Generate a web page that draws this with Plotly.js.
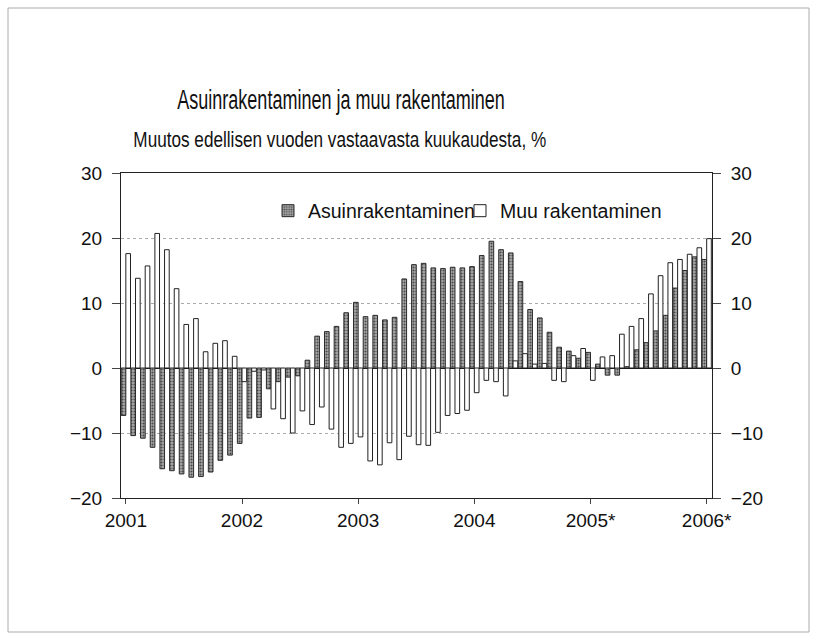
<!DOCTYPE html>
<html>
<head>
<meta charset="utf-8">
<script src="https://cdn.plot.ly/plotly-3.0.1.min.js"></script>
<style>html,body{margin:0;padding:0;background:#fff;}#chart{width:817px;height:638px;}</style>
</head>
<body>
<div id="chart"></div>
<script>
// Months Jan 2001 ... Jan 2006 (index 0..60)
const monthIndex = Array.from({length: 61}, (_, i) => i);
const tickPositions = [0, 12, 24, 36, 48, 60];
const tickLabels = ["2001", "2002", "2003", "2004", "2005*", "2006*"];

const asuinrakentaminen = [
  -7.3, -10.4, -10.8, -12.2, -15.5, -15.8, -16.3, -16.8, -16.7, -16.0, -14.2, -13.4,
  -11.6, -7.7, -7.6, -3.2, -2.1, -1.4, -1.2, 1.2, 4.9, 5.6, 6.4, 8.5,
  10.1, 7.9, 8.1, 7.4, 7.8, 13.7, 15.9, 16.1, 15.4, 15.3, 15.5, 15.4,
  15.6, 17.3, 19.5, 18.2, 17.7, 13.3, 9.0, 7.7, 5.5, 3.2, 2.6, 1.5,
  2.4, 0.6, -1.1, -1.1, 0.2, 2.8, 3.9, 5.7, 8.1, 12.3, 15.0, 17.1,
  16.7
];
const muuRakentaminen = [
  17.6, 13.8, 15.7, 20.7, 18.2, 12.2, 6.7, 7.6, 2.5, 3.8, 4.2, 1.8,
  -2.1, -0.5, -0.3, -6.3, -7.8, -10.0, -6.6, -8.7, -6.0, -9.4, -12.2, -11.6,
  -10.6, -14.3, -14.9, -11.5, -14.1, -10.5, -11.8, -11.9, -9.9, -7.3, -7.0, -6.5,
  -3.8, -1.9, -2.1, -4.3, 1.1, 2.2, 0.6, 0.7, -1.9, -2.1, 1.9, 3.0,
  -1.9, 1.7, 1.9, 5.2, 6.4, 7.6, 11.4, 14.2, 16.2, 16.7, 17.5, 18.5,
  19.9
];
const seriesNames = ["Asuinrakentaminen", "Muu rakentaminen"];
const titleText = "Asuinrakentaminen ja muu rakentaminen";
const subtitleText = "Muutos edellisen vuoden vastaavasta kuukaudesta, %";

const FONT = "'Liberation Sans', Arial, sans-serif";

const traces = [
  {
    type: "bar", name: seriesNames[0], x: monthIndex, y: asuinrakentaminen,
    legend: "legend",
    marker: {
      color: "#8e8e8e",
      line: {color: "#2a2a2a", width: 1},
      pattern: {shape: ".", fgcolor: "#4a4a4a", bgcolor: "#a8a8a8", size: 3, solidity: 0.4}
    }
  },
  {
    type: "bar", name: seriesNames[1], x: monthIndex, y: muuRakentaminen,
    legend: "legend2",
    marker: {color: "#ffffff", line: {color: "#222", width: 1}}
  },
  {
    type: "scatter", x: [0], y: [0], yaxis: "y2", mode: "markers",
    marker: {opacity: 0}, showlegend: false, hoverinfo: "skip"
  }
];

const legendCommon = {
  orientation: "h", xanchor: "left",
  y: (498 - 211) / 325, yanchor: "middle",
  bgcolor: "rgba(0,0,0,0)",
  font: {family: FONT, size: 19.5, color: "#111"},
  itemwidth: 30
};

const layout = {
  width: 817, height: 638,
  margin: {l: 121, r: 105, t: 173, b: 140},
  paper_bgcolor: "#fff", plot_bgcolor: "#fff",
  font: {family: FONT, color: "#111", size: 19},
  showlegend: true,
  barmode: "group", bargap: 0.04, bargroupgap: 0,
  title: {
    text: titleText,
    font: {family: FONT, size: 27, color: "#111"},
    xref: "container", x: 341 / 817, xanchor: "center",
    yref: "container", y: 1 - 100 / 638, yanchor: "middle"
  },
  annotations: [{
    text: subtitleText, showarrow: false,
    xref: "paper", yref: "paper",
    x: (340 - 121) / 591, y: (498 - 139) / 325,
    xanchor: "center", yanchor: "middle",
    font: {family: FONT, size: 22, color: "#111"}
  }],
  legend: Object.assign({}, legendCommon, {x: (268 - 121) / 591}),
  legend2: Object.assign({}, legendCommon, {x: (460 - 121) / 591}),
  xaxis: {
    range: [-0.5, 60.55],
    tickmode: "array", tickvals: tickPositions, ticktext: tickLabels,
    ticks: "outside", ticklen: 5, tickcolor: "#444",
    showline: true, linecolor: "#222", linewidth: 1, mirror: true,
    showgrid: false, zeroline: false,
    tickfont: {family: FONT, size: 19, color: "#111"}
  },
  yaxis: {
    range: [-20, 30], dtick: 10, tick0: 0,
    ticks: "outside", ticklen: 8, tickcolor: "#444", ticklabelstandoff: 6,
    showline: true, linecolor: "#222", linewidth: 1, mirror: true,
    showgrid: true, gridcolor: "#aaa", griddash: "dot", gridwidth: 1,
    zeroline: true, zerolinecolor: "#111", zerolinewidth: 1,
    tickfont: {family: FONT, size: 19, color: "#111"}
  },
  yaxis2: {
    range: [-20, 30], dtick: 10, tick0: 0,
    overlaying: "y", side: "right",
    ticks: "outside", ticklen: 8, tickcolor: "#444", ticklabelstandoff: 6,
    showline: true, linecolor: "#222", linewidth: 1,
    showgrid: false, zeroline: false,
    tickfont: {family: FONT, size: 19, color: "#111"}
  },
  shapes: [{
    type: "rect", xref: "paper", yref: "paper",
    x0: (8 - 121) / 591, x1: (809 - 121) / 591,
    y0: (498 - 632) / 325, y1: (498 - 8) / 325,
    line: {color: "#aaa", width: 1}, fillcolor: "rgba(0,0,0,0)", layer: "below"
  }]
};

// Narrow-font look for the titles: squeeze horizontally about each text's anchor point
function squeeze(el, s) {
  const x = parseFloat(el.getAttribute("x")) || 0;
  const t = el.getAttribute("transform") || "";
  el.setAttribute("transform", t + " translate(" + x + ",0) scale(" + s + ",1) translate(" + (-x) + ",0)");
}

Plotly.newPlot("chart", traces, layout, {displayModeBar: false, staticPlot: true}).then(function (gd) {
  gd.querySelectorAll("text.gtitle").forEach(function (el) { squeeze(el, 0.668); });
  gd.querySelectorAll("g.annotation text").forEach(function (el) { squeeze(el, 0.78); });
});
</script>
</body>
</html>
